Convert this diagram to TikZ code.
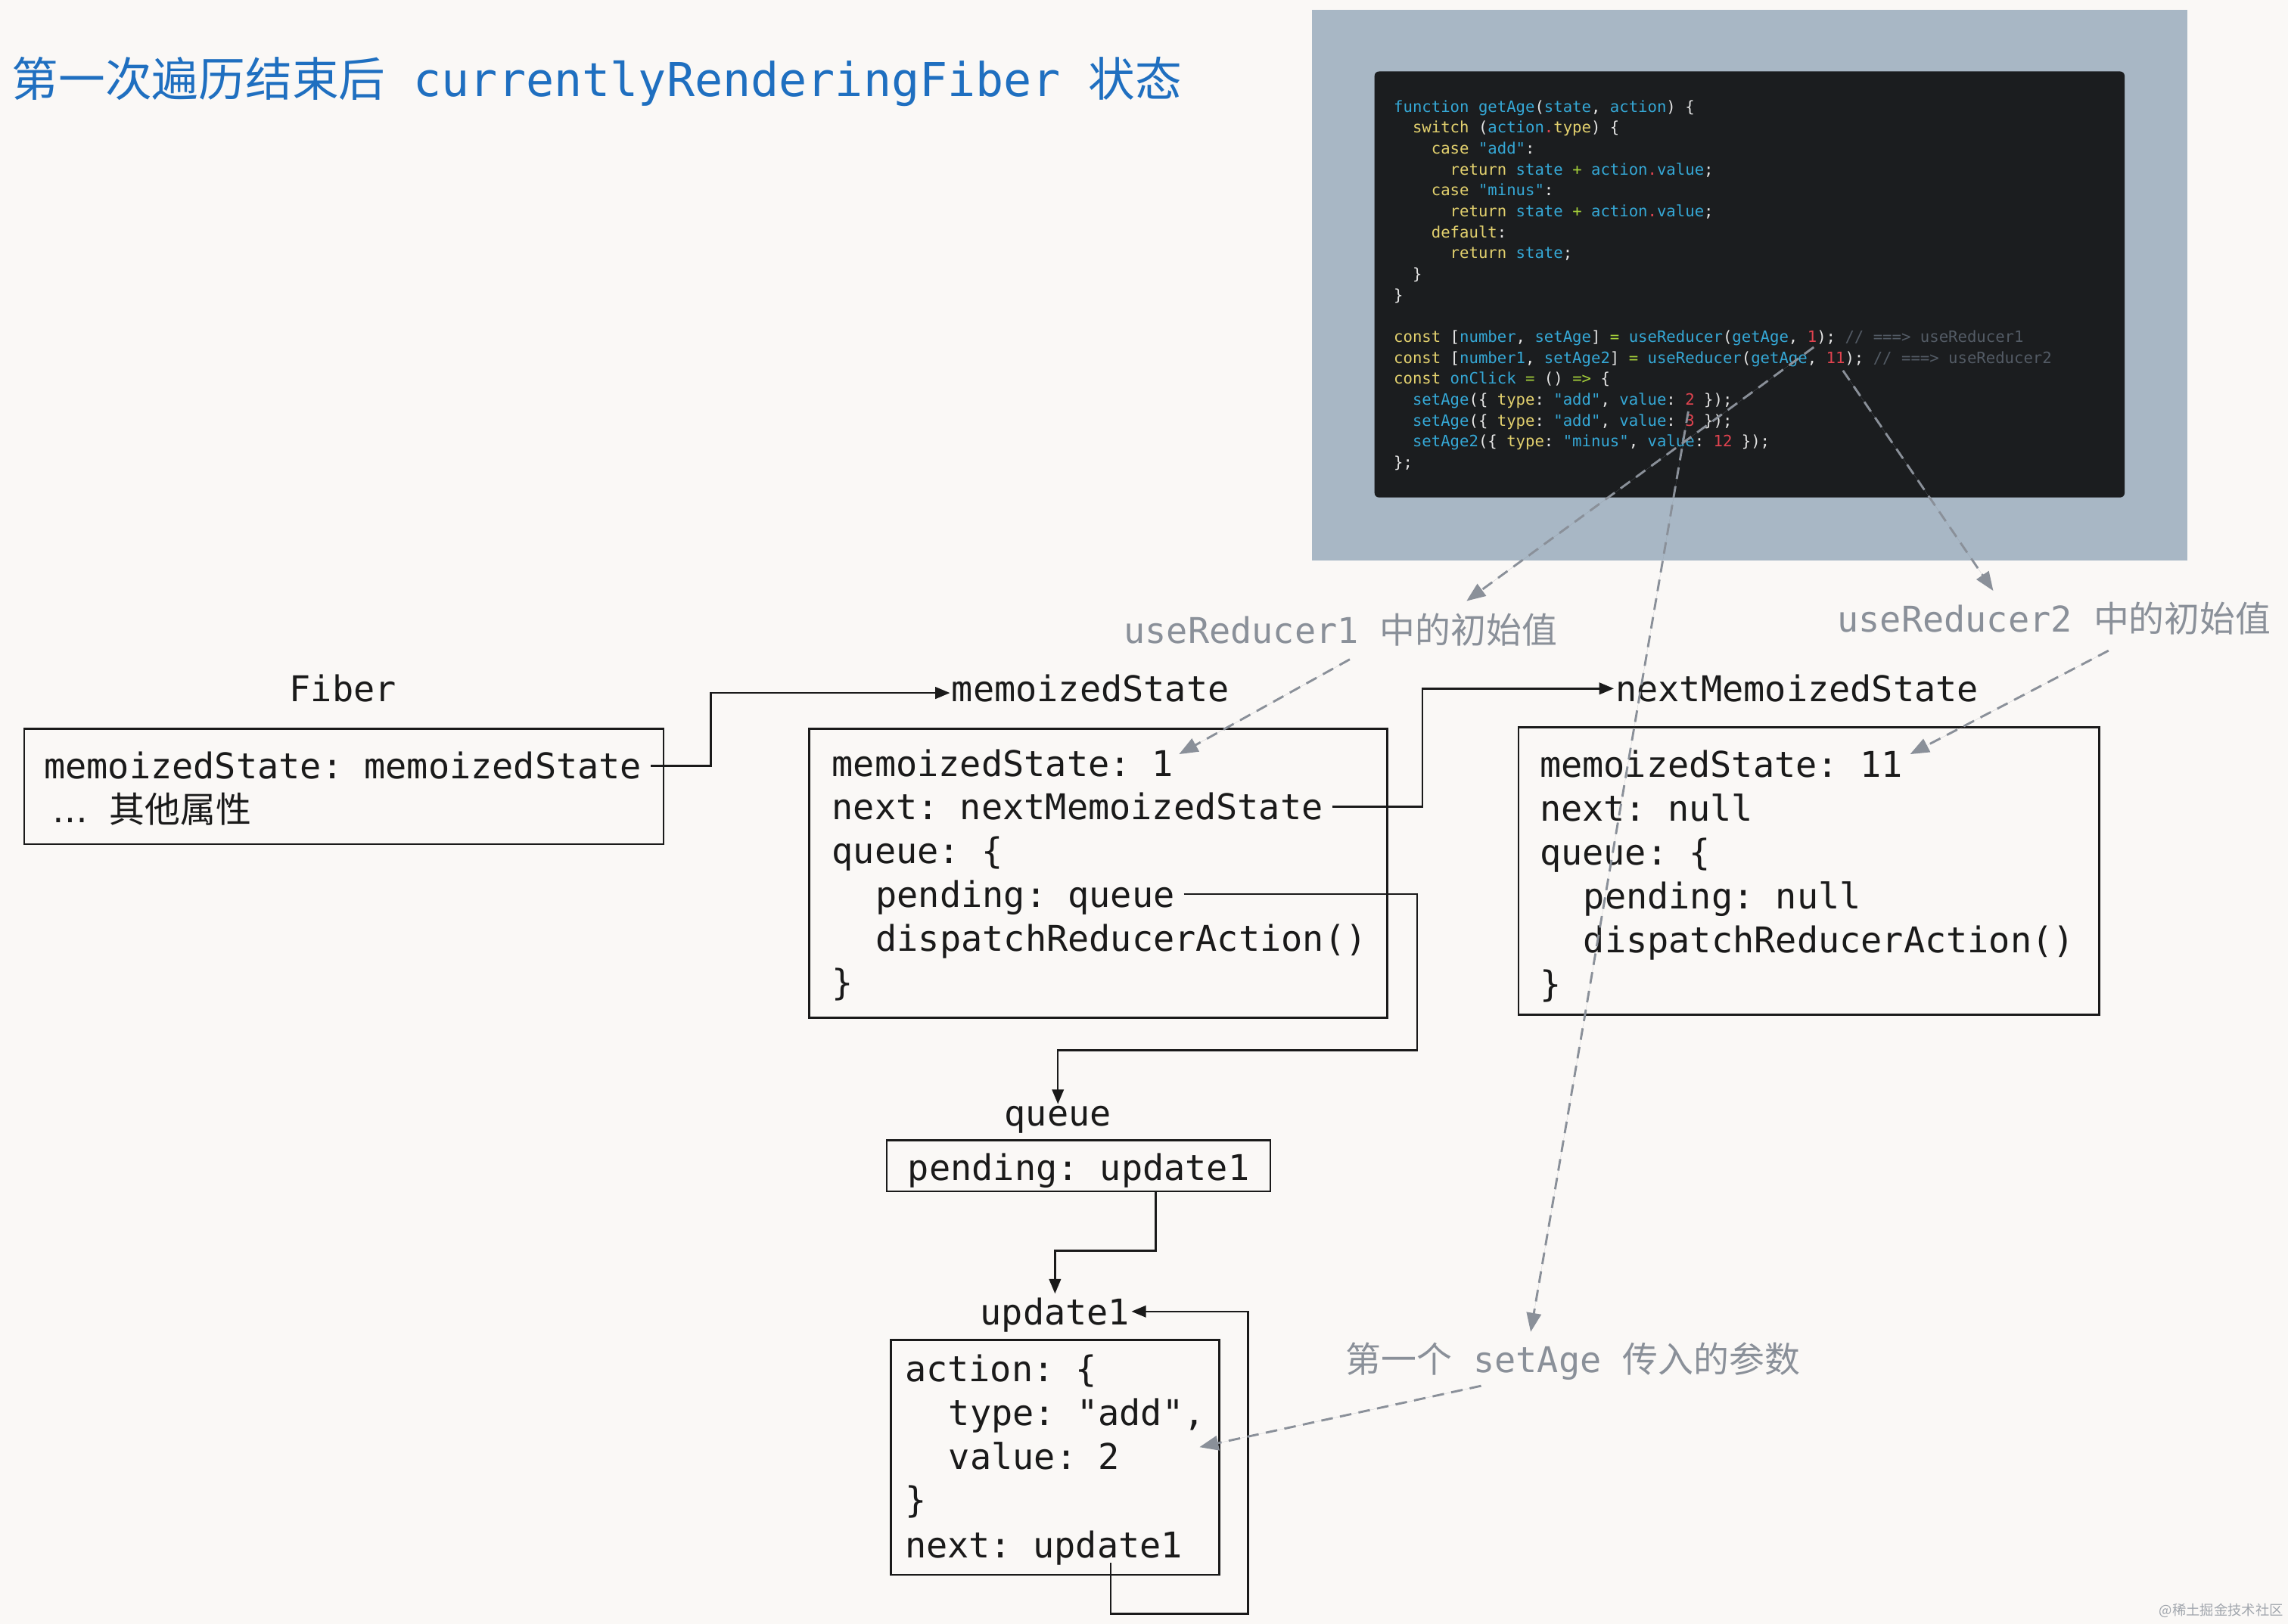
\documentclass[tikz,border=0pt]{standalone}
\usepackage{fontspec}
\setmonofont{DejaVu Sans Mono}
\newfontfamily\cjk{Noto Sans CJK SC}
\newfontfamily\dejasans{DejaVu Sans}
\usetikzlibrary{arrows.meta}
\definecolor{bg}{HTML}{FAF8F6}
\definecolor{ink}{HTML}{1A1A1A}
\definecolor{note}{HTML}{8A9099}
\definecolor{titleblue}{HTML}{1F6FC0}
\definecolor{panel}{HTML}{A8B7C5}
\definecolor{codebg}{HTML}{1B1D1F}
\definecolor{codefg}{HTML}{E4E4E4}
\definecolor{ckw}{HTML}{E3D16E}
\definecolor{cid}{HTML}{35A8D6}
\definecolor{cnum}{HTML}{E0434F}
\definecolor{cop}{HTML}{A6D13A}
\definecolor{ccm}{HTML}{535B65}
\newcommand\hlkw[1]{\textcolor{ckw}{#1}}
\newcommand\hlid[1]{\textcolor{cid}{#1}}
\newcommand\hlnum[1]{\textcolor{cnum}{#1}}
\newcommand\hlop[1]{\textcolor{cop}{#1}}
\newcommand\hlcm[1]{\textcolor{ccm}{#1}}
\tikzset{>={Triangle[length=10pt,width=8pt]},
  ln/.style={font=\ttfamily\fontsize{24.3}{30}\selectfont, text=ink, inner xsep=6pt, inner ysep=0pt,
    text height=21pt, text depth=3pt, anchor=west},
  lbl/.style={ln, inner xsep=1pt},
  note/.style={lbl, text=note},
  box/.style={draw=ink, line width=1.3pt, inner sep=0pt, anchor=north west},
  link/.style={draw=ink, line width=1.3pt, ->},
  hint/.style={draw=note, dash pattern=on 8pt off 5pt, line width=1.5pt, -{Triangle[length=13pt,width=10pt]}, fill=note},
  code/.style={font=\ttfamily\fontsize{10.7}{14}\selectfont, text=codefg, inner sep=0pt, anchor=west,
    text height=9pt, text depth=1.5pt}}

\begin{document}
\begin{tikzpicture}[x=1pt, y=-1pt]
    \fill[bg] (0,0) rectangle (1568,1113);
    % title
    \node[ln, inner xsep=0pt, text=titleblue, font=\ttfamily\fontsize{32}{36}\selectfont, text height=28pt, text depth=4pt]
        (title) at (8,54) {{\cjk 第一次遍历结束后} currentlyRenderingFiber {\cjk 状态}};

    % code panel
    \fill[panel] (899,7) rectangle (1499,384);
    \fill[codebg, rounded corners=3pt] (942,49) rectangle (1456,341);
    \node[code] (l1) at (955,73) {\hlid{function getAge}(\hlid{state}, \hlid{action}) \{};
    \node[code] (l2) at (955,87.4) {~~\hlkw{switch} (\hlid{action}\hlnum{.}\hlkw{type}) \{};
    \node[code] (l3) at (955,101.7) {~~~~\hlkw{case} \hlid{"add"}:};
    \node[code] (l4) at (955,116.1) {~~~~~~\hlkw{return} \hlid{state} \hlop{+} \hlid{action}\hlnum{.}\hlid{value};};
    \node[code] (l5) at (955,130.4) {~~~~\hlkw{case} \hlid{"minus"}:};
    \node[code] (l6) at (955,144.8) {~~~~~~\hlkw{return} \hlid{state} \hlop{+} \hlid{action}\hlnum{.}\hlid{value};};
    \node[code] (l7) at (955,159.1) {~~~~\hlkw{default}:};
    \node[code] (l8) at (955,173.5) {~~~~~~\hlkw{return} \hlid{state};};
    \node[code] (l9) at (955,187.8) {~~\}};
    \node[code] (l10) at (955,202.2) {\}};
    \node[code] (l12) at (955,230.9) {\hlkw{const} [\hlid{number}, \hlid{setAge}] \hlop{=} \hlid{useReducer}(\hlid{getAge}, \hlnum{1}); \hlcm{// ===> useReducer1}};
    \node[code] (l13) at (955,245.2) {\hlkw{const} [\hlid{number1}, \hlid{setAge2}] \hlop{=} \hlid{useReducer}(\hlid{getAge}, \hlnum{11}); \hlcm{// ===> useReducer2}};
    \node[code] (l14) at (955,259.6) {\hlkw{const} \hlid{onClick} \hlop{=} () \hlop{=>} \{};
    \node[code] (l15) at (955,273.9) {~~\hlid{setAge}(\{ \hlkw{type}: \hlid{"add"}, \hlid{value}: \hlnum{2} \});};
    \node[code] (l16) at (955,288.3) {~~\hlid{setAge}(\{ \hlkw{type}: \hlid{"add"}, \hlid{value}: \hlnum{3} \});};
    \node[code] (l17) at (955,302.6) {~~\hlid{setAge2}(\{ \hlkw{type}: \hlid{"minus"}, \hlid{value}: \hlnum{12} \});};
    \node[code] (l18) at (955,317) {\};};

    % Fiber
    \node[lbl, anchor=center] (fiberLbl) at (235,472) {Fiber};
    \node[box, minimum width=438pt, minimum height=79pt] (fiberBox) at (16,499) {};
    \node[ln] (fiberMs) at (24,525) {memoizedState: memoizedState};
    \node[ln] (fiberEtc) at (30,555) {{\dejasans …} {\cjk 其他属性}};

    % first hook
    \node[lbl] (msLbl) at (651,472) {memoizedState};
    \node[box, minimum width=396pt, minimum height=198pt] (hook1) at (554,499) {};
    \node[ln] (b1ms) at (564,523) {memoizedState: 1};
    \node[ln] (b1next) at (564,553) {next: nextMemoizedState};
    \node[ln] (b1q) at (564,583) {queue: \{};
    \node[ln] (b1pend) at (594,613) {pending: queue};
    \node[ln] (b1disp) at (594,643) {dispatchReducerAction()};
    \node[ln] (b1end) at (564,673) {\}};

    % second hook
    \node[lbl] (nmsLbl) at (1106,472) {nextMemoizedState};
    \node[box, minimum width=398pt, minimum height=197pt] (hook2) at (1040,498) {};
    \node[ln] (b2ms) at (1049,524) {memoizedState: 11};
    \node[ln] (b2next) at (1049,554) {next: null};
    \node[ln] (b2q) at (1049,584) {queue: \{};
    \node[ln] (b2pend) at (1079,614) {pending: null};
    \node[ln] (b2disp) at (1079,644) {dispatchReducerAction()};
    \node[ln] (b2end) at (1049,674) {\}};

    % queue
    \node[lbl, anchor=center] (qLbl) at (725,763) {queue};
    \node[box, minimum width=263pt, minimum height=35pt] (qBox) at (607,781) {};
    \node[ln] (qPend) at (616,800) {pending: update1};

    % update1
    \node[lbl, anchor=center] (uLbl) at (723,899) {update1};
    \node[box, minimum width=225pt, minimum height=161pt] (uBox) at (610,918) {};
    \node[ln] (uAct) at (614,938) {action: \{};
    \node[ln] (uType) at (644,968) {type: "add",};
    \node[ln] (uVal) at (644,998) {value: 2};
    \node[ln] (uEnd) at (614,1028) {\}};
    \node[ln] (uNext) at (614,1059) {next: update1};

    % notes
    \node[note] (r1Lbl) at (769,432) {useReducer1 {\cjk 中的初始值}};
    \node[note] (r2Lbl) at (1258,424) {useReducer2 {\cjk 中的初始值}};
    \node[note] (sLbl) at (921,932) {{\cjk 第一个} setAge {\cjk 传入的参数}};
    \node[anchor=east, inner sep=0pt, text=note!80, font=\cjk\fontsize{9.5}{10}\selectfont] (mark) at (1565,1104) {@稀土掘金技术社区};

    % links
    \draw[link] (fiberMs.east) -- ++(41,0) |- ([yshift=-3pt]msLbl.west);
    \draw[link] (b1next.east) -- ++(62,0) |- (nmsLbl.west);
    \draw[link] (b1pend.east) -- ++(160,0) -- ++(0,107) -| ([yshift=-6pt]qLbl.north);
    \draw[link] ([xshift=53pt]qBox.south) -- ++(0,40) -| (uLbl.north);
    \draw[link] ([xshift=46pt]uNext.south) -- ++(0,35) -- ++(94,0) |- (uLbl.east);

    % hints
    \coordinate (c1) at (1243,238);
    \coordinate (c2) at (1263,254);
    \coordinate (c3) at (1157,282);
    \coordinate (t1) at (1005,412);
    \coordinate (t2) at (1366,405);
    \coordinate (t3) at (1049,913);
    \coordinate (s1) at (925,452);
    \coordinate (s2) at (1445,446);
    \coordinate (s3) at (1015,950);
    \coordinate (t4) at (808,517);
    \coordinate (t5) at (1309,517);
    \coordinate (t6) at (822,992);
    \draw[hint] (c1) -- (t1);
    \draw[hint] (c2) -- (t2);
    \draw[hint] (c3) -- (t3);
    \draw[hint] (s1) -- (t4);
    \draw[hint] (s2) -- (t5);
    \draw[hint] (s3) -- (t6);
\end{tikzpicture}
\end{document}
